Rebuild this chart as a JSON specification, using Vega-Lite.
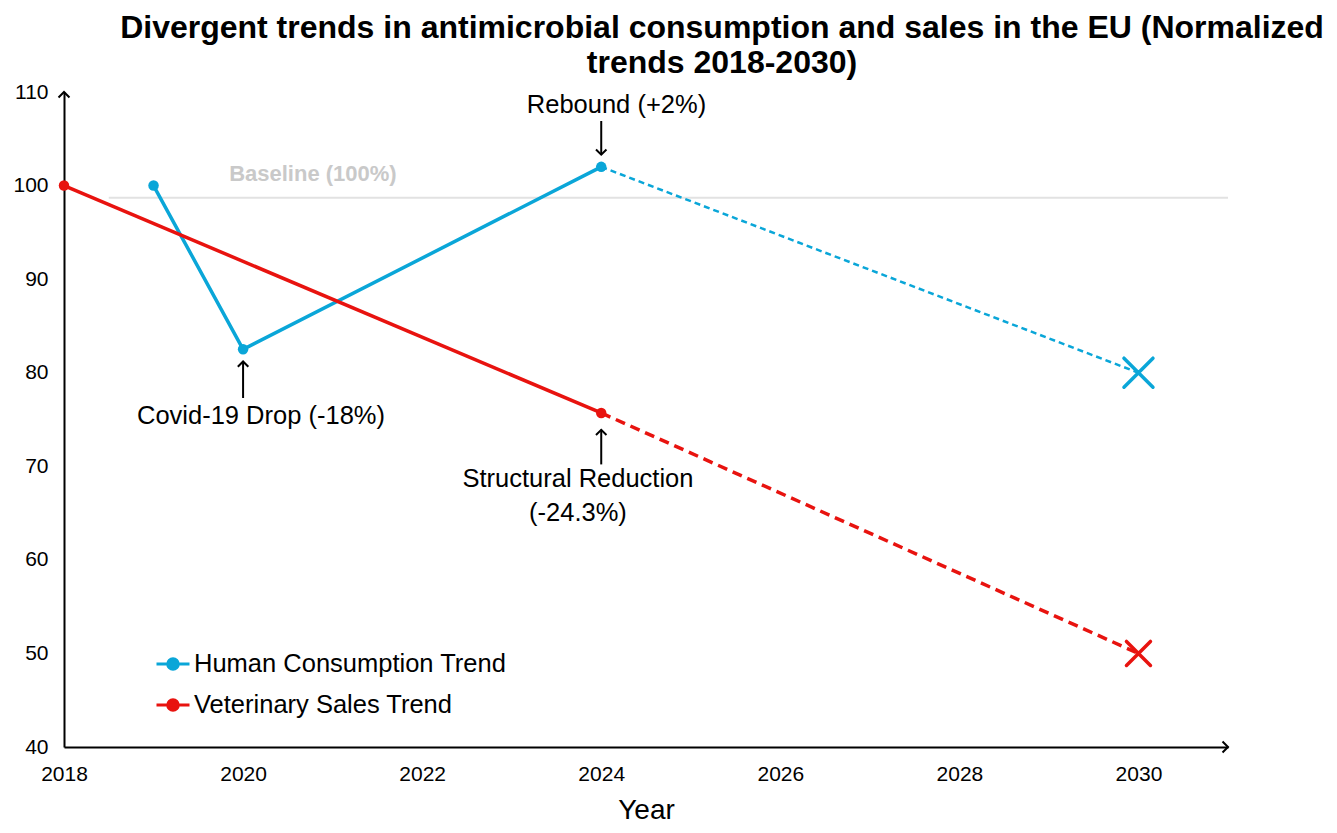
{
  "$schema": "https://vega.github.io/schema/vega-lite/v6.json",
  "autosize": {"type": "none"},
  "padding": {"left": 64, "top": 92, "right": 109, "bottom": 86},
  "width": 1164,
  "height": 655,
  "background": "white",
  "config": {
    "font": "Liberation Sans",
    "view": {"stroke": null}
  },
  "title": {
    "text": ["Divergent trends in antimicrobial consumption and sales in the EU (Normalized", "trends 2018-2030)"],
    "anchor": "middle",
    "dx": 76,
    "offset": 1,
    "font": "Liberation Sans",
    "fontSize": 32,
    "fontWeight": "bold",
    "lineHeight": 35,
    "color": "black"
  },
  "datasets": {
    "trends": [
      {"series": "Human Consumption Trend", "year": 2019, "value": 100, "seg": "actual"},
      {"series": "Human Consumption Trend", "year": 2020, "value": 82.5, "seg": "actual"},
      {"series": "Human Consumption Trend", "year": 2024, "value": 102, "seg": "actual"},
      {"series": "Human Consumption Trend", "year": 2024, "value": 102, "seg": "projection"},
      {"series": "Human Consumption Trend", "year": 2030, "value": 80, "seg": "projection"},
      {"series": "Veterinary Sales Trend", "year": 2018, "value": 100, "seg": "actual"},
      {"series": "Veterinary Sales Trend", "year": 2024, "value": 75.7, "seg": "actual"},
      {"series": "Veterinary Sales Trend", "year": 2024, "value": 75.7, "seg": "projection"},
      {"series": "Veterinary Sales Trend", "year": 2030, "value": 50, "seg": "projection"}
    ],
    "notes": [
      {"label": ["Rebound (+2%)"], "tx": 2024.17, "ty": 108.6, "ax": 2024, "from": 106.9, "to": 103.3, "dir": "down"},
      {"label": ["Covid-19 Drop (-18%)"], "tx": 2020.2, "ty": 75.4, "ax": 2020, "from": 77.3, "to": 81.2, "dir": "up"},
      {"label": ["Structural Reduction", "(-24.3%)"], "tx": 2023.74, "ty": 68.6, "ax": 2024, "from": 70.2, "to": 73.9, "dir": "up"}
    ]
  },
  "layer": [
    {
      "data": {"values": [{"start": 2018.5, "end": 2031, "level": 98.7}]},
      "mark": {"type": "rule", "color": "#e2e2e2", "strokeWidth": 2},
      "encoding": {
        "x": {"field": "start", "type": "quantitative"},
        "x2": {"field": "end"},
        "y": {"field": "level", "type": "quantitative"}
      }
    },
    {
      "data": {"values": [{"year": 2020.78, "value": 101.2, "text": "Baseline (100%)"}]},
      "mark": {"type": "text", "color": "#c9c9c9", "fontSize": 22, "fontWeight": "bold"},
      "encoding": {
        "x": {"field": "year", "type": "quantitative"},
        "y": {"field": "value", "type": "quantitative"},
        "text": {"field": "text"}
      }
    },
    {
      "data": {"name": "trends"},
      "transform": [{"filter": "datum.seg === 'actual'"}],
      "mark": {"type": "line", "strokeWidth": 3.5},
      "encoding": {
        "x": {
          "field": "year", "type": "quantitative", "title": "Year",
          "scale": {"domain": [2018, 2031], "nice": false, "zero": false},
          "axis": {
            "values": [2018, 2020, 2022, 2024, 2026, 2028, 2030],
            "format": "d", "grid": false, "ticks": false, "labelFlush": false,
            "domainColor": "black", "domainWidth": 2,
            "labelFontSize": 21, "labelColor": "black", "labelPadding": 16,
            "titleFontSize": 28, "titleFontWeight": "normal", "titleColor": "black", "titlePadding": 12
          }
        },
        "y": {
          "field": "value", "type": "quantitative", "title": null,
          "scale": {"domain": [40, 110], "nice": false, "zero": false},
          "axis": {
            "values": [40, 50, 60, 70, 80, 90, 100, 110],
            "grid": false, "ticks": false, "labelFlush": false,
            "domainColor": "black", "domainWidth": 2,
            "labelFontSize": 21, "labelColor": "black", "labelPadding": 16
          }
        },
        "color": {
          "field": "series", "type": "nominal",
          "scale": {"domain": ["Human Consumption Trend", "Veterinary Sales Trend"], "range": ["#0aa6d8", "#e8130f"]},
          "legend": {
            "title": null, "orient": "none", "legendX": 91, "legendY": 554, "padding": 0,
            "symbolType": "M-1,0H1M-0.32,0A0.32,0.32 0 1,1 0.32,0A0.32,0.32 0 1,1 -0.32,0",
            "symbolSize": 1089, "symbolStrokeWidth": 3,
            "labelFontSize": 25.5, "labelLimit": 0, "labelColor": "black", "labelOffset": 3, "rowPadding": 9,
            "encode": {"symbols": {"update": {"fill": {"scale": "color", "field": "value"}}}}
          }
        }
      }
    },
    {
      "data": {"name": "trends"},
      "transform": [{"filter": "datum.seg === 'projection' && datum.series === 'Human Consumption Trend'"}],
      "mark": {"type": "line", "strokeWidth": 2.5, "strokeDash": [6, 4]},
      "encoding": {
        "x": {"field": "year", "type": "quantitative"},
        "y": {"field": "value", "type": "quantitative"},
        "color": {"field": "series", "type": "nominal", "legend": null}
      }
    },
    {
      "data": {"name": "trends"},
      "transform": [{"filter": "datum.seg === 'projection' && datum.series === 'Veterinary Sales Trend'"}],
      "mark": {"type": "line", "strokeWidth": 3.5, "strokeDash": [10, 6]},
      "encoding": {
        "x": {"field": "year", "type": "quantitative"},
        "y": {"field": "value", "type": "quantitative"},
        "color": {"field": "series", "type": "nominal", "legend": null}
      }
    },
    {
      "data": {"name": "trends"},
      "transform": [{"filter": "datum.seg === 'actual'"}],
      "mark": {"type": "point", "shape": "circle", "filled": true, "opacity": 1, "size": 110},
      "encoding": {
        "x": {"field": "year", "type": "quantitative"},
        "y": {"field": "value", "type": "quantitative"},
        "color": {"field": "series", "type": "nominal", "legend": null}
      }
    },
    {
      "data": {"name": "trends"},
      "transform": [{"filter": "datum.year === 2030 && datum.series === 'Human Consumption Trend'"}],
      "mark": {"type": "point", "shape": "M-1,-1L1,1M-1,1L1,-1", "filled": false, "opacity": 1, "size": 841, "strokeWidth": 3.5, "strokeCap": "round"},
      "encoding": {
        "x": {"field": "year", "type": "quantitative"},
        "y": {"field": "value", "type": "quantitative"},
        "color": {"field": "series", "type": "nominal", "legend": null}
      }
    },
    {
      "data": {"name": "trends"},
      "transform": [{"filter": "datum.year === 2030 && datum.series === 'Veterinary Sales Trend'"}],
      "mark": {"type": "point", "shape": "M-1,-1L1,1M-1,1L1,-1", "filled": false, "opacity": 1, "size": 576, "strokeWidth": 3.5, "strokeCap": "round"},
      "encoding": {
        "x": {"field": "year", "type": "quantitative"},
        "y": {"field": "value", "type": "quantitative"},
        "color": {"field": "series", "type": "nominal", "legend": null}
      }
    },
    {
      "data": {"name": "notes"},
      "mark": {"type": "rule", "color": "black", "strokeWidth": 2},
      "encoding": {
        "x": {"field": "ax", "type": "quantitative"},
        "y": {"field": "from", "type": "quantitative"},
        "y2": {"field": "to"}
      }
    },
    {
      "data": {"name": "notes"},
      "transform": [{"filter": "datum.dir === 'up'"}],
      "mark": {"type": "point", "shape": "M-1,1L0,0L1,1", "filled": false, "opacity": 1, "color": "black", "size": 110, "strokeWidth": 2},
      "encoding": {
        "x": {"field": "ax", "type": "quantitative"},
        "y": {"field": "to", "type": "quantitative"}
      }
    },
    {
      "data": {"name": "notes"},
      "transform": [{"filter": "datum.dir === 'down'"}],
      "mark": {"type": "point", "shape": "M-1,-1L0,0L1,-1", "filled": false, "opacity": 1, "color": "black", "size": 110, "strokeWidth": 2},
      "encoding": {
        "x": {"field": "ax", "type": "quantitative"},
        "y": {"field": "to", "type": "quantitative"}
      }
    },
    {
      "data": {"name": "notes"},
      "mark": {"type": "text", "fontSize": 25.5, "color": "black", "lineHeight": 34, "baseline": "middle"},
      "encoding": {
        "x": {"field": "tx", "type": "quantitative"},
        "y": {"field": "ty", "type": "quantitative"},
        "text": {"field": "label"}
      }
    },
    {
      "data": {"values": [{"year": 2018, "value": 110}]},
      "mark": {"type": "point", "shape": "M-1,1L0,0L1,1", "filled": false, "opacity": 1, "color": "black", "size": 120, "strokeWidth": 2},
      "encoding": {
        "x": {"field": "year", "type": "quantitative"},
        "y": {"field": "value", "type": "quantitative"}
      }
    },
    {
      "data": {"values": [{"year": 2031, "value": 40}]},
      "mark": {"type": "point", "shape": "M-1,-1L0,0L-1,1", "filled": false, "opacity": 1, "color": "black", "size": 120, "strokeWidth": 2},
      "encoding": {
        "x": {"field": "year", "type": "quantitative"},
        "y": {"field": "value", "type": "quantitative"}
      }
    }
  ]
}
